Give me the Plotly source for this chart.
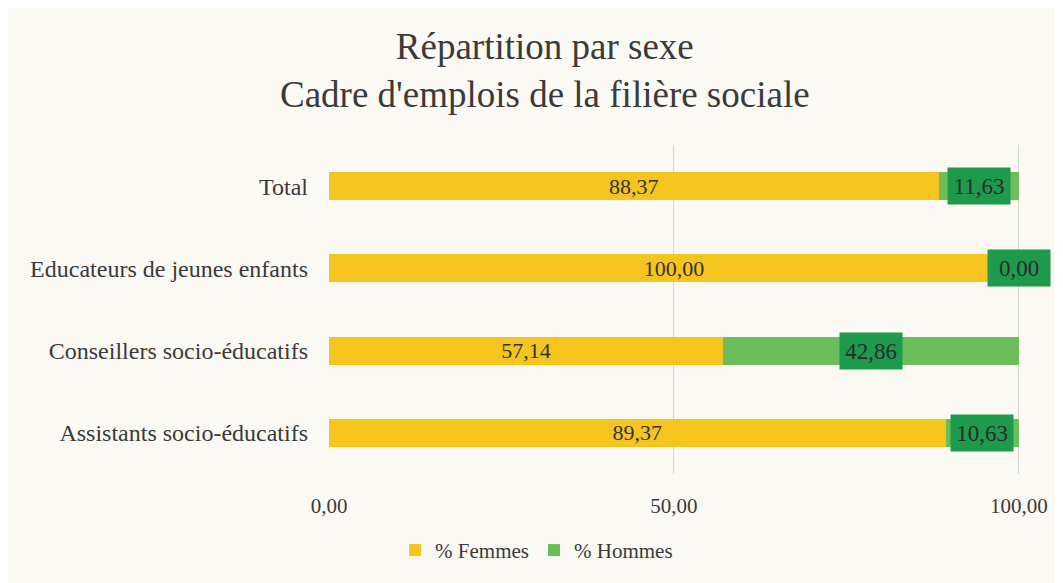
import plotly.graph_objects as go

categories = ["Assistants socio-éducatifs", "Conseillers socio-éducatifs",
              "Educateurs de jeunes enfants", "Total"]
femmes = [89.37, 57.14, 100.00, 88.37]
hommes = [10.63, 42.86, 0.00, 11.63]
x_ticks = [0, 50, 100]

FONT = "Liberation Serif"
fig = go.Figure()
fig.add_trace(go.Bar(
    y=categories, x=femmes, orientation="h", name="% Femmes",
    marker=dict(color="#F5C41E", line=dict(width=0)),
    texttemplate="%{x:.2f}", textposition="inside", insidetextanchor="middle",
    constraintext="none",
    textfont=dict(family=FONT, size=22, color="#333333"), width=0.34,
))
fig.add_trace(go.Bar(
    y=categories, x=hommes, orientation="h", name="% Hommes",
    marker=dict(color="#6CBE5C", line=dict(width=0)), width=0.34,
))
for c, f, h in zip(categories, femmes, hommes):
    fig.add_annotation(
        x=f + h / 2, y=c, xref="x", yref="y",
        text=f"{h:.2f}".replace(".", ","), showarrow=False,
        font=dict(family=FONT, size=23, color="#2a2a2a"),
        bgcolor="#1E9A4C", borderpad=4, width=54, height=28,
    )

fig.update_layout(
    width=1063, height=583,
    paper_bgcolor="#FAF9F3", plot_bgcolor="#FAF9F3",
    separators=", ",
    margin=dict(l=321, r=50, t=137, b=117, autoexpand=False),
    barmode="stack",
    title=dict(text="Répartition par sexe<br>Cadre d'emplois de la filière sociale",
               x=0.505, xanchor="center", y=0.912, yanchor="top",
               font=dict(family=FONT, size=37, color="#3a3a3a")),
    xaxis=dict(range=[0, 100.3], tickvals=x_ticks, tickformat=".2f",
               showgrid=True, gridcolor="#D8D8D2", gridwidth=1,
               zeroline=False, showline=False, ticks="",
               ticklabelstandoff=17,
               tickfont=dict(family=FONT, size=21, color="#3a3a3a")),
    yaxis=dict(showgrid=False, zeroline=False, ticks="", ticklabelstandoff=20,
               range=[-0.5, 3.5],
               tickfont=dict(family=FONT, size=24, color="#3a3a3a")),
    legend=dict(orientation="h", x=0.30, xanchor="center",
                y=-0.17, yanchor="top", traceorder="normal",
                font=dict(family=FONT, size=21, color="#3a3a3a")),
    showlegend=True,
)
fig.write_html("out.html")
